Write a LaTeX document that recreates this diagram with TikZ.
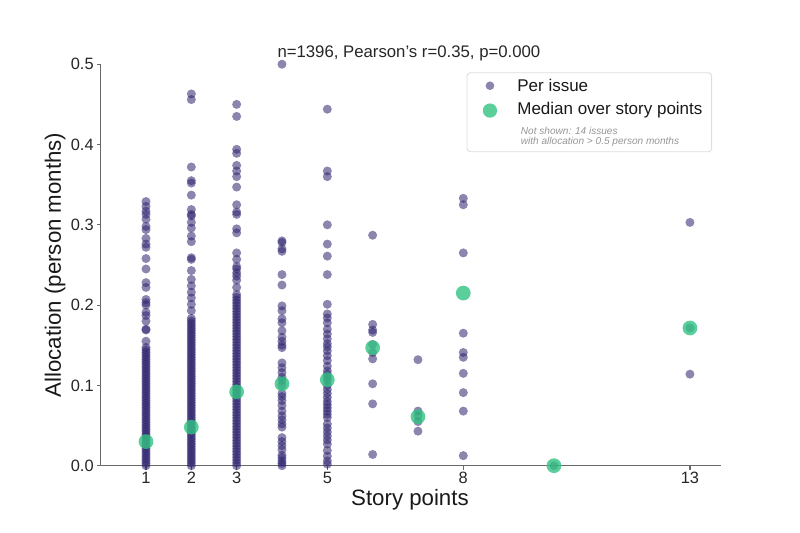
\documentclass[tikz,border=0pt]{standalone}
\usepackage{fontspec}
\setmainfont{Liberation Sans}
\usetikzlibrary{positioning}
\definecolor{issuecol}{RGB}{45,35,110}
\definecolor{mediancol}{RGB}{50,195,130}
\definecolor{axiscol}{RGB}{105,105,105}
\definecolor{notecol}{RGB}{150,150,150}
\definecolor{framecol}{RGB}{222,222,222}
\tikzstyle{issue} = [
  fill=issuecol,
  fill opacity=0.55
]
\tikzstyle{median} = [
  fill=mediancol,
  fill opacity=0.8
]
\tikzstyle{axisline} = [
  draw=axiscol,
  line width=1pt
]
\tikzstyle{ticklabel} = [
  text=black!85,
  inner sep=2pt,
  font=\fontsize{14pt}{16pt}\selectfont
]
\tikzstyle{axislabel} = [
  text=black!90,
  inner sep=1pt,
  font=\fontsize{19pt}{22pt}\selectfont
]
\tikzstyle{legendtext} = [
  text=black!90,
  inner sep=0,
  anchor=west,
  font=\fontsize{14.5pt}{16pt}\selectfont
]
\tikzstyle{note} = [
  text=notecol,
  inner sep=0,
  align=left,
  font=\fontsize{8.6pt}{8.4pt}\selectfont\itshape
]

\begin{document}
\begin{tikzpicture}[x=1.36cm, y=24.09cm]
      \useasboundingbox (-2.221,-0.0838) rectangle (15.428,0.58);

      \draw [axisline] (0,0.5) -- (0,0) -- (13.68,0);
      \foreach \v in {0.0,0.1,0.2,0.3,0.4,0.5}
        \draw [axisline] (0,\v) -- ++(-3.5pt,0) node [ticklabel, left] {\v};
      \foreach \t in {1,2,3,5,8,13}
        \draw [axisline] (\t,0) -- ++(0,-3.5pt) node [ticklabel, below, inner sep=1.5pt] {\t};

      \foreach \v in {0,0.003,...,0.15}
        \fill [issue] (1,\v) circle [radius=3.85pt];
      \foreach \v in {0.155,0.169,0.17,0.18,0.187,0.191,0.2,0.203,0.207,0.222,0.228,0.245,0.258,0.272,0.276,0.283,0.294,0.298,0.307,0.313,0.317,0.323,0.329}
        \fill [issue] (1,\v) circle [radius=3.85pt];
      \foreach \v in {0,0.003,...,0.186}
        \fill [issue] (2,\v) circle [radius=3.85pt];
      \foreach \v in {0.193,0.201,0.209,0.216,0.224,0.232,0.243,0.257,0.259,0.279,0.286,0.296,0.303,0.311,0.313,0.319,0.337,0.352,0.355,0.372,0.456,0.463}
        \fill [issue] (2,\v) circle [radius=3.85pt];
      \foreach \v in {0,0.0035,...,0.215}
        \fill [issue] (3,\v) circle [radius=3.85pt];
      \foreach \v in {0.222,0.231,0.236,0.24,0.245,0.248,0.257,0.265,0.29,0.295,0.313,0.316,0.325,0.347,0.36,0.367,0.374,0.389,0.394,0.435,0.45}
        \fill [issue] (3,\v) circle [radius=3.85pt];
      \foreach \v in {0.0,0.003,0.006,0.01,0.013,0.02,0.025,0.03,0.035,0.048,0.052,0.057,0.062,0.068,0.075,0.081,0.086,0.09,0.1,0.106,0.11,0.116,0.122,0.128,0.147,0.15,0.155,0.16,0.168,0.178,0.183,0.193,0.199,0.225,0.238,0.267,0.27,0.278,0.28,0.5}
        \fill [issue] (4,\v) circle [radius=3.85pt];
      \foreach \v in {0.002,0.006,0.012,0.019,0.027,0.032,0.037,0.042,0.047,0.052,0.06,0.064,0.068,0.072,0.076,0.08,0.085,0.09,0.095,0.1,0.106,0.11,0.114,0.118,0.124,0.131,0.137,0.143,0.148,0.152,0.158,0.164,0.17,0.178,0.184,0.189,0.201,0.238,0.261,0.276,0.3,0.36,0.367,0.444}
        \fill [issue] (5,\v) circle [radius=3.85pt];
      \foreach \v in {0.014,0.077,0.102,0.133,0.141,0.151,0.166,0.169,0.176,0.287}
        \fill [issue] (6,\v) circle [radius=3.85pt];
      \foreach \v in {0.043,0.055,0.062,0.068,0.132}
        \fill [issue] (7,\v) circle [radius=3.85pt];
      \foreach \v in {0.0125,0.068,0.091,0.115,0.135,0.141,0.165,0.265,0.325,0.333}
        \fill [issue] (8,\v) circle [radius=3.85pt];
      \foreach \v in {0.0}
        \fill [issue] (10,\v) circle [radius=3.85pt];
      \foreach \v in {0.114,0.1715,0.303}
        \fill [issue] (13,\v) circle [radius=3.85pt];

      \foreach \t/\m in {1/0.030,2/0.048,3/0.092,4/0.102,5/0.107,6/0.147,7/0.061,8/0.215,10/0.0,13/0.1715}
        \fill [median] (\t,\m) circle [radius=6.3pt];

      \node [ticklabel, font=\fontsize{14.3pt}{16pt}\selectfont] (title) at (6.8,0.513) {n=1396, Pearson's r=0.35, p=0.000};
      \node [axislabel, rotate=90] (ylabel) at (-1.007,0.25) {Allocation (person months)};
      \node [axislabel, anchor=base] (xlabel) at (6.823,-0.049) {Story points};

      \draw [draw=framecol, fill=white, fill opacity=0.8, rounded corners=3pt, line width=0.8pt] (8.081,0.4894) rectangle (13.48,0.391);
      \node [issue, circle, inner sep=0, minimum size=7.4pt] (issue key) at (8.588,0.4732) {};
      \node [median, circle, inner sep=0, minimum size=12.2pt] (median key) at (8.588,0.4423) {};
      \node [legendtext, right=23.2pt of issue key.center] (issue text) {Per issue};
      \node [legendtext, right=23.2pt of median key.center] (median text) {Median over story points};
      \node [note, anchor=west] (hidden note) at (9.266,0.4095) {Not shown: 14 issues\\with allocation > 0.5 person months};

    \end{tikzpicture}
\end{document}
